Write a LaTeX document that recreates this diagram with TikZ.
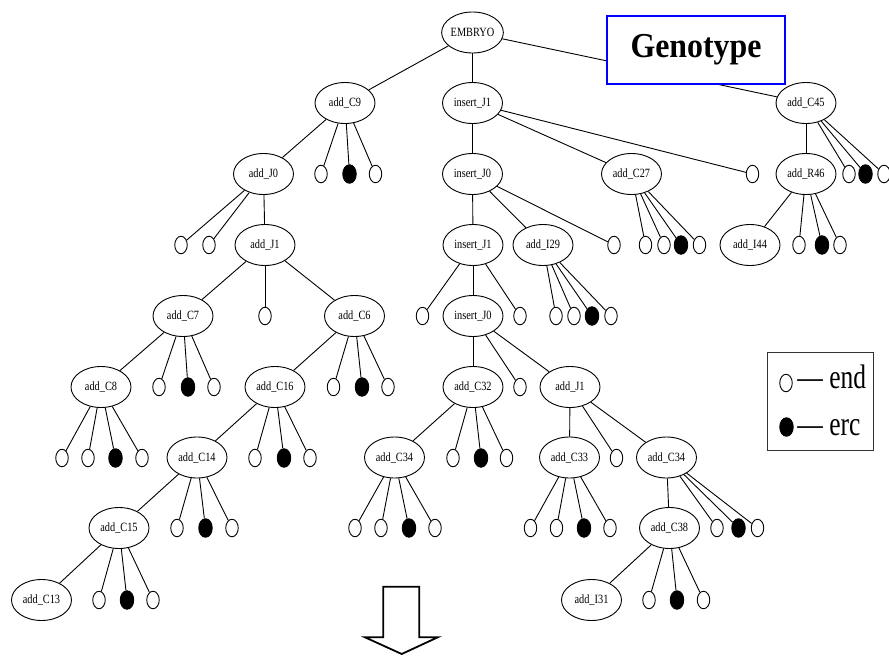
\documentclass[tikz,border=0pt]{standalone}
\usepackage{fontspec}
\setmainfont{Liberation Serif}
\newfontfamily\lblfont[FakeStretch=0.82]{Liberation Serif}
\newfontfamily\keyfont[FakeStretch=0.75]{Liberation Serif}
\newfontfamily\genofont[FakeStretch=0.91]{Liberation Serif}
\usepackage{tikz}
\usetikzlibrary{shapes.geometric, arrows.meta, positioning}

\begin{document}
    \begin{tikzpicture}[x=1pt, y=-1pt, line width=0.9pt,
        op/.style={ellipse, draw, fill=white, minimum width=60pt, minimum height=41pt, inner sep=0pt, font=\lblfont\fontsize{12.6}{14}\selectfont},
        endleaf/.style={ellipse, draw, fill=white, minimum width=12.5pt, minimum height=17.5pt, inner sep=0pt},
        ercleaf/.style={ellipse, draw, fill=black, minimum width=13.5pt, minimum height=18.5pt, inner sep=0pt},
        keytext/.style={inner sep=0pt, font=\keyfont\fontsize{34}{38}\selectfont},
        genobox/.style={draw=blue, line width=2pt, fill=white, minimum width=178pt, minimum height=68pt, font=\genofont\bfseries\fontsize{35}{40}\selectfont}]
        \useasboundingbox (0,0) rectangle (889,656);

        % operators
        \node[op] (EMB) at (472.5,32.5) {EMBRYO};
        \node[op] (C9) at (345,103) {add\_C9};
        \node[op] (iJ1) at (472.5,103) {insert\_J1};
        \node[op] (C45) at (806,103) {add\_C45};
        \node[op] (J0) at (263.5,174) {add\_J0};
        \node[op] (iJ0) at (472.5,174) {insert\_J0};
        \node[op] (C27) at (631.5,174) {add\_C27};
        \node[op] (R46) at (806,174) {add\_R46};
        \node[op] (J1) at (265,245) {add\_J1};
        \node[op] (iJ1b) at (473,245) {insert\_J1};
        \node[op] (I29) at (543,245) {add\_I29};
        \node[op] (I44) at (750,245) {add\_I44};
        \node[op] (C7) at (183,316) {add\_C7};
        \node[op] (C6) at (354.5,316) {add\_C6};
        \node[op] (iJ0b) at (473,316) {insert\_J0};
        \node[op] (C8) at (101,387) {add\_C8};
        \node[op] (C16) at (275,387) {add\_C16};
        \node[op] (C32) at (473,387) {add\_C32};
        \node[op] (J1b) at (570,387) {add\_J1};
        \node[op] (C14) at (197,457.5) {add\_C14};
        \node[op] (C34a) at (394.5,457.5) {add\_C34};
        \node[op] (C33) at (569.5,457.5) {add\_C33};
        \node[op] (C34b) at (666.5,457.5) {add\_C34};
        \node[op] (C15) at (119,528) {add\_C15};
        \node[op] (C38) at (669.5,528) {add\_C38};
        \node[op] (C13) at (41.5,600) {add\_C13};
        \node[op] (I31) at (591.5,600) {add\_I31};

        % end / erc leaves
        \node[endleaf] (C9a) at (321,174) {};
        \node[ercleaf] (C9b) at (349.5,174) {};
        \node[endleaf] (C9c) at (375.5,174) {};
        \node[endleaf] (iJ1x) at (752.5,174) {};
        \node[endleaf] (C45a) at (849,174) {};
        \node[ercleaf] (C45b) at (865.5,174) {};
        \node[endleaf] (C45c) at (884,174) {};
        \node[endleaf] (J0a) at (181,245) {};
        \node[endleaf] (J0b) at (209,245) {};
        \node[endleaf] (iJ0x) at (614,245) {};
        \node[endleaf] (C27a) at (645.5,245) {};
        \node[endleaf] (C27b) at (664,245) {};
        \node[ercleaf] (C27c) at (681,245) {};
        \node[endleaf] (C27d) at (699.5,245) {};
        \node[endleaf] (R46a) at (799,245) {};
        \node[ercleaf] (R46b) at (822,245) {};
        \node[endleaf] (R46c) at (840,245) {};
        \node[endleaf] (J1x) at (265,316) {};
        \node[endleaf] (iJ1ba) at (422.5,316) {};
        \node[endleaf] (iJ1bb) at (520,316) {};
        \node[endleaf] (I29a) at (556,316) {};
        \node[endleaf] (I29b) at (574,316) {};
        \node[ercleaf] (I29c) at (592,316) {};
        \node[endleaf] (I29d) at (611,316) {};
        \node[endleaf] (C7a) at (159,387) {};
        \node[ercleaf] (C7b) at (188,387) {};
        \node[endleaf] (C7c) at (214,387) {};
        \node[endleaf] (C6a) at (333.5,387) {};
        \node[ercleaf] (C6b) at (362,387) {};
        \node[endleaf] (C6c) at (388,387) {};
        \node[endleaf] (iJ0bx) at (520,387) {};
        \node[endleaf] (C8a) at (62,458) {};
        \node[endleaf] (C8b) at (88,458) {};
        \node[ercleaf] (C8c) at (115.5,458) {};
        \node[endleaf] (C8d) at (142,458) {};
        \node[endleaf] (C16a) at (255,458) {};
        \node[ercleaf] (C16b) at (284,458) {};
        \node[endleaf] (C16c) at (310,458) {};
        \node[endleaf] (C32a) at (453,458) {};
        \node[ercleaf] (C32b) at (481,458) {};
        \node[endleaf] (C32c) at (506.5,458) {};
        \node[endleaf] (J1bx) at (616.5,458) {};
        \node[endleaf] (C14a) at (177,528) {};
        \node[ercleaf] (C14b) at (205.5,528) {};
        \node[endleaf] (C14c) at (232,528) {};
        \node[endleaf] (C34aa) at (355,528) {};
        \node[endleaf] (C34ab) at (381,528) {};
        \node[ercleaf] (C34ac) at (409,528) {};
        \node[endleaf] (C34ad) at (435,528) {};
        \node[endleaf] (C33a) at (530.5,528) {};
        \node[endleaf] (C33b) at (556.5,528) {};
        \node[ercleaf] (C33c) at (584,528) {};
        \node[endleaf] (C33d) at (610,528) {};
        \node[endleaf] (C34ba) at (717,528) {};
        \node[ercleaf] (C34bb) at (738.5,528) {};
        \node[endleaf] (C34bc) at (757.5,528) {};
        \node[endleaf] (C15a) at (99,600) {};
        \node[ercleaf] (C15b) at (127,600) {};
        \node[endleaf] (C15c) at (153,600) {};
        \node[endleaf] (C38a) at (649,600) {};
        \node[ercleaf] (C38b) at (677,600) {};
        \node[endleaf] (C38c) at (703.5,600) {};

        % tree edges
        \draw (EMB) to (C9);
        \draw (EMB) to (iJ1);
        \draw (EMB) to (C45);
        \draw (C9) to (J0);
        \draw (C9) to (C9a);
        \draw (C9) to (C9b);
        \draw (C9) to (C9c);
        \draw (iJ1) to (iJ0);
        \draw (iJ1) to (C27);
        \draw (iJ1) to (iJ1x);
        \draw (C45) to (R46);
        \draw (C45) to (C45a);
        \draw (C45) to (C45b);
        \draw (C45) to (C45c);
        \draw (J0) to (J0a);
        \draw (J0) to (J0b);
        \draw (J0) to (J1);
        \draw (iJ0) to (iJ1b);
        \draw (iJ0) to (I29);
        \draw (iJ0) to (iJ0x);
        \draw (C27) to (C27a);
        \draw (C27) to (C27b);
        \draw (C27) to (C27c);
        \draw (C27) to (C27d);
        \draw (R46) to (I44);
        \draw (R46) to (R46a);
        \draw (R46) to (R46b);
        \draw (R46) to (R46c);
        \draw (J1) to (C7);
        \draw (J1) to (J1x);
        \draw (J1) to (C6);
        \draw (iJ1b) to (iJ1ba);
        \draw (iJ1b) to (iJ0b);
        \draw (iJ1b) to (iJ1bb);
        \draw (I29) to (I29a);
        \draw (I29) to (I29b);
        \draw (I29) to (I29c);
        \draw (I29) to (I29d);
        \draw (C7) to (C8);
        \draw (C7) to (C7a);
        \draw (C7) to (C7b);
        \draw (C7) to (C7c);
        \draw (C6) to (C16);
        \draw (C6) to (C6a);
        \draw (C6) to (C6b);
        \draw (C6) to (C6c);
        \draw (iJ0b) to (C32);
        \draw (iJ0b) to (iJ0bx);
        \draw (iJ0b) to (J1b);
        \draw (C8) to (C8a);
        \draw (C8) to (C8b);
        \draw (C8) to (C8c);
        \draw (C8) to (C8d);
        \draw (C16) to (C14);
        \draw (C16) to (C16a);
        \draw (C16) to (C16b);
        \draw (C16) to (C16c);
        \draw (C32) to (C34a);
        \draw (C32) to (C32a);
        \draw (C32) to (C32b);
        \draw (C32) to (C32c);
        \draw (J1b) to (C33);
        \draw (J1b) to (J1bx);
        \draw (J1b) to (C34b);
        \draw (C14) to (C15);
        \draw (C14) to (C14a);
        \draw (C14) to (C14b);
        \draw (C14) to (C14c);
        \draw (C34a) to (C34aa);
        \draw (C34a) to (C34ab);
        \draw (C34a) to (C34ac);
        \draw (C34a) to (C34ad);
        \draw (C33) to (C33a);
        \draw (C33) to (C33b);
        \draw (C33) to (C33c);
        \draw (C33) to (C33d);
        \draw (C34b) to (C38);
        \draw (C34b) to (C34ba);
        \draw (C34b) to (C34bb);
        \draw (C34b) to (C34bc);
        \draw (C15) to (C13);
        \draw (C15) to (C15a);
        \draw (C15) to (C15b);
        \draw (C15) to (C15c);
        \draw (C38) to (I31);
        \draw (C38) to (C38a);
        \draw (C38) to (C38b);
        \draw (C38) to (C38c);

        % title box sits over the edge to add_C45
        \node[genobox] (geno) at (696,50) {Genotype};

        % key
        \node[draw=black!80, minimum width=106pt, minimum height=98pt] (key) at (820,401) {};
        \node[endleaf] (keyE) at (786,383) {};
        \node[ercleaf] (keyR) at (786.5,427) {};
        \node[keytext, anchor=base west] (keyEt) at (797,388.3) {— end};
        \node[keytext, anchor=base west] (keyRt) at (797,435) {— erc};

        % block arrow
        \draw[line width=1.8pt, line join=miter] (383.3,586.7) -- (419.3,586.7) -- (419.3,637.3) -- (437.7,637.3)
            -- (401.7,654) -- (365,637.3) -- (383.3,637.3) -- cycle;
    \end{tikzpicture}
\end{document}
